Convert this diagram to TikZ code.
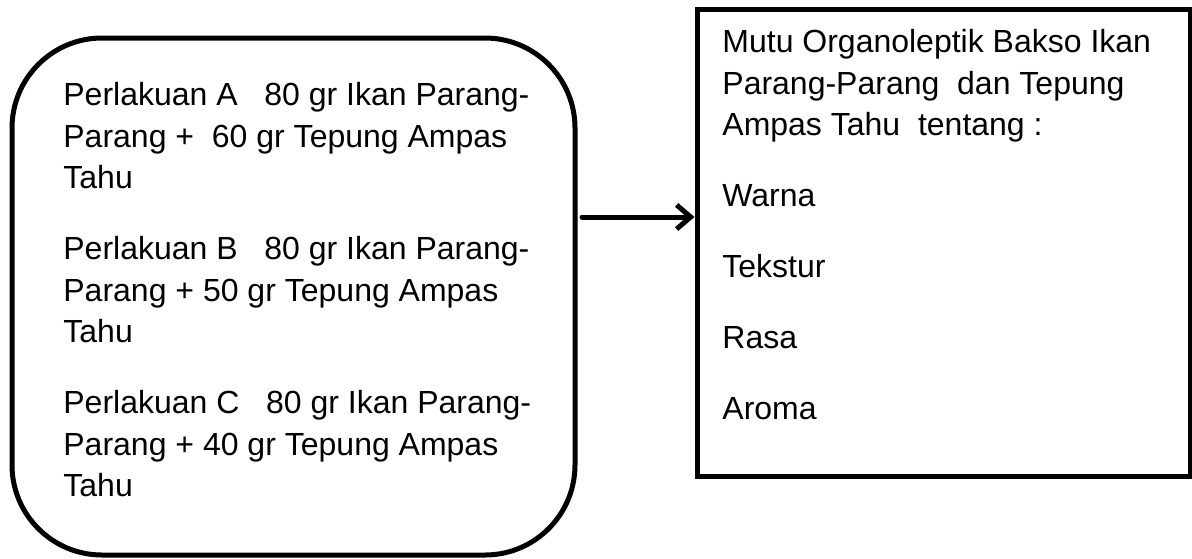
\documentclass[tikz,border=0pt]{standalone}
\usepackage{fontspec}
\setmainfont{Liberation Sans}
\usetikzlibrary{arrows.meta}

\tikzset{
	kotak/.style={draw, line width=2.5pt, inner sep=0pt},
	teks/.style={anchor=north west, inner sep=0pt, align=left, font=\fontsize{16pt}{20.75pt}\selectfont},
	panah/.style={line width=2.5pt, line cap=round, -{Straight Barb[length=7pt,width=12pt]}}
}

\begin{document}
\begin{tikzpicture}[x=0.5pt,y=-0.5pt]
	\useasboundingbox (0,0) rectangle (1192,558);
	
	% kotak
	\node[kotak, rounded corners=45pt, minimum width=281.5pt, minimum height=258.5pt] (perlakuan) at (293.5,296.5) {};
	\node[kotak, minimum width=246.5pt, minimum height=233.5pt] (mutu) at (943.5,242.5) {};
	
	% teks
	\node[teks] (teksperlakuan) at (63,82) {%
		Perlakuan A\ \ \ 80 gr Ikan Parang-\\
		Parang +\ \ 60 gr Tepung Ampas\\
		Tahu\\[14.75pt]
		Perlakuan B\ \ \ 80 gr Ikan Parang-\\
		Parang + 50 gr Tepung Ampas\\
		Tahu\\[14.75pt]
		Perlakuan C\ \ \ 80 gr Ikan Parang-\\
		Parang + 40 gr Tepung Ampas\\
		Tahu};
	
	\node[teks] (teksmutu) at (722,29) {%
		Mutu Organoleptik Bakso Ikan\\
		Parang-Parang\ \ dan Tepung\\
		Ampas Tahu\ \ tentang :\\[14.75pt]
		Warna\\[14.75pt]
		Tekstur\\[14.75pt]
		Rasa\\[14.75pt]
		Aroma};
	
	% panah
	\coordinate (awalpanah) at (582,217);
	\draw[panah] (awalpanah) -- (awalpanah -| mutu.west);
\end{tikzpicture}
\end{document}
